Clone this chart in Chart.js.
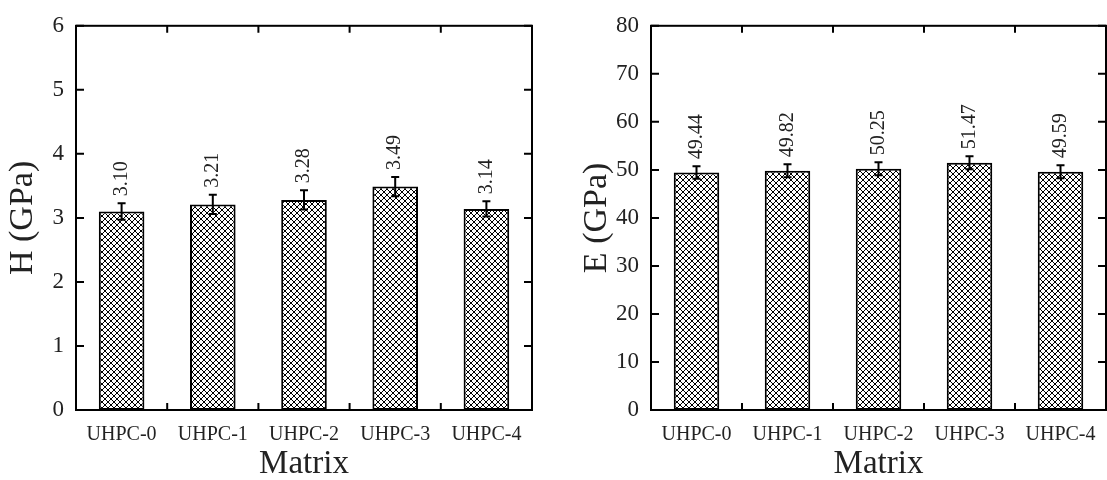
<!DOCTYPE html>
<html>
<head>
<meta charset="utf-8">
<script src="https://cdn.jsdelivr.net/npm/chart.js@4"></script>
<style>
  body { margin: 0; background: #fff; }
  .panel { position: absolute; top: 0; height: 480px; }
  #left { left: 0; width: 545px; }
  #right { left: 545px; width: 562px; }
</style>
</head>
<body>
<div class="panel" id="left"><canvas id="hChart"></canvas></div>
<div class="panel" id="right"><canvas id="eChart"></canvas></div>
<script>
const categories = ["UHPC-0", "UHPC-1", "UHPC-2", "UHPC-3", "UHPC-4"];
const hardness = [3.10, 3.21, 3.28, 3.49, 3.14];
const hardnessErr = [0.13, 0.15, 0.15, 0.15, 0.12];
const modulus = [49.44, 49.82, 50.25, 51.47, 49.59];
const modulusErr = [1.3, 1.35, 1.35, 1.35, 1.35];

const serif = "'Liberation Serif', 'Times New Roman', serif";

function hatch() {
  const c = document.createElement("canvas");
  c.width = 6; c.height = 6;
  const g = c.getContext("2d");
  g.fillStyle = "#fff";
  g.fillRect(0, 0, 6, 6);
  g.strokeStyle = "#000";
  g.lineWidth = 1;
  g.beginPath();
  g.moveTo(0, 0); g.lineTo(6, 6);
  g.moveTo(6, 0); g.lineTo(0, 6);
  g.stroke();
  return g.createPattern(c, "repeat");
}

// frame with inward ticks, error bars and rotated value labels
const extras = {
  id: "extras",
  afterDatasetsDraw(chart) {
    const { ctx, chartArea: a, scales: { x, y } } = chart;
    const ds = chart.data.datasets[0];
    const meta = chart.getDatasetMeta(0);
    ctx.save();
    ctx.strokeStyle = "#000";
    ctx.lineWidth = 2;

    meta.data.forEach((bar, i) => {
      const v = ds.data[i], e = ds.errors[i];
      const top = y.getPixelForValue(v + e);
      const bot = y.getPixelForValue(v - e);
      ctx.beginPath();
      ctx.moveTo(bar.x, top); ctx.lineTo(bar.x, bot);
      ctx.moveTo(bar.x - 4, top); ctx.lineTo(bar.x + 4, top);
      ctx.moveTo(bar.x - 4, bot); ctx.lineTo(bar.x + 4, bot);
      ctx.stroke();

      ctx.save();
      ctx.translate(bar.x, top - 7);
      ctx.rotate(-Math.PI / 2);
      ctx.fillStyle = "#222";
      ctx.font = "20px " + serif;
      ctx.textAlign = "left";
      ctx.textBaseline = "middle";
      ctx.fillText(v.toFixed(2), 0, 0);
      ctx.restore();
    });

    ctx.strokeRect(a.left, a.top, a.right - a.left, a.bottom - a.top);
    ctx.beginPath();
    y.ticks.forEach(t => {
      const py = y.getPixelForValue(t.value);
      ctx.moveTo(a.left, py); ctx.lineTo(a.left + 8, py);
      ctx.moveTo(a.right, py); ctx.lineTo(a.right - 8, py);
    });
    for (let i = 0; i < categories.length - 1; i++) {
      const px = (x.getPixelForValue(i) + x.getPixelForValue(i + 1)) / 2;
      ctx.moveTo(px, a.bottom); ctx.lineTo(px, a.bottom - 7);
      ctx.moveTo(px, a.top); ctx.lineTo(px, a.top + 7);
    }
    ctx.stroke();
    ctx.restore();
  }
};

function makeChart(id, values, errors, title, yMax, step, axisWidth, titlePad, padRight) {
  return new Chart(document.getElementById(id), {
    type: "bar",
    data: {
      labels: categories,
      datasets: [{
        data: values,
        errors: errors,
        backgroundColor: hatch(),
        borderColor: "#000",
        borderWidth: 2,
        borderSkipped: false,
        barPercentage: 0.5,
        categoryPercentage: 1
      }]
    },
    options: {
      responsive: true,
      maintainAspectRatio: false,
      animation: false,
      layout: { padding: { top: 14, right: padRight, left: 0, bottom: 0 } },
      plugins: { legend: { display: false }, tooltip: { enabled: false } },
      scales: {
        x: {
          grid: { display: false },
          border: { display: false },
          ticks: { color: "#222", padding: 5, font: { family: serif, size: 20 } },
          title: {
            display: true, text: "Matrix", color: "#222",
            font: { family: serif, size: 33, lineHeight: 1 },
            padding: { top: 0, bottom: -1 }
          },
          afterFit: s => { s.height = 70; }
        },
        y: {
          min: 0, max: yMax,
          grid: { display: false, drawTicks: false },
          border: { display: false },
          ticks: { stepSize: step, color: "#222", padding: 12, font: { family: serif, size: 23 } },
          title: {
            display: true, text: title, color: "#222",
            font: { family: serif, size: 34, lineHeight: 1 },
            padding: { top: titlePad, bottom: 0 }
          },
          afterFit: s => { s.width = axisWidth; }
        }
      }
    },
    plugins: [extras]
  });
}

makeChart("hChart", hardness, hardnessErr, "H (GPa)", 6, 1, 76, 6, 13);
makeChart("eChart", modulus, modulusErr, "E (GPa)", 80, 10, 106, 35, 1);
</script>
</body>
</html>
